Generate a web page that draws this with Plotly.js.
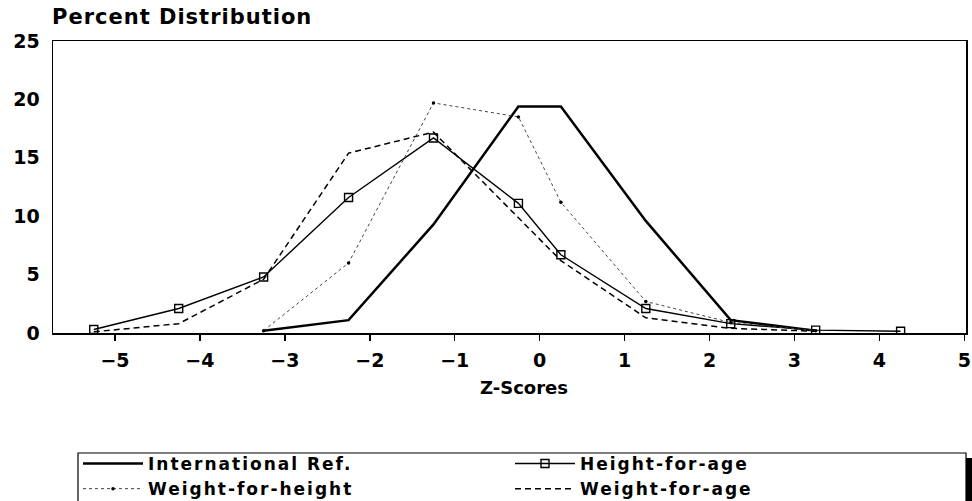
<!DOCTYPE html>
<html>
<head>
<meta charset="utf-8">
<script src="https://cdn.plot.ly/plotly-3.0.1.min.js"></script>
<style>
html,body{margin:0;padding:0;background:#fff;}
#chart{width:972px;height:501px;}
.legendtext{letter-spacing:2px;}
.gtitle{letter-spacing:1px;}
</style>
</head>
<body>
<div id="chart"></div>
<script>
// Data
const refX = [-3.25, -2.25, -1.25, -0.25, 0.25, 1.25, 2.25, 3.25];
const refY = [0.2, 1.1, 9.3, 19.4, 19.4, 9.6, 1.1, 0.2];

const hfaX = [-5.25, -4.25, -3.25, -2.25, -1.25, -0.25, 0.25, 1.25, 2.25, 3.25, 4.25];
const hfaY = [0.3, 2.1, 4.8, 11.6, 16.7, 11.1, 6.7, 2.1, 0.8, 0.25, 0.15];

const wfhX = [-3.25, -2.25, -1.25, -0.25, 0.25, 1.25, 2.25, 3.25];
const wfhY = [0.2, 6.0, 19.7, 18.5, 11.2, 2.7, 0.9, 0.2];

const wfaX = [-5.25, -4.25, -3.25, -2.25, -1.25, -0.25, 0.25, 1.25, 2.25, 3.25];
const wfaY = [0.1, 0.8, 4.6, 15.4, 17.2, 9.9, 6.2, 1.3, 0.4, 0.15];

const xTicks = [-5, -4, -3, -2, -1, 0, 1, 2, 3, 4, 5];
const yTicks = [0, 5, 10, 15, 20, 25];

const names = ['International Ref.', 'Height-for-age', 'Weight-for-height', 'Weight-for-age'];
const xTitle = 'Z-Scores';
const yTitle = 'Percent Distribution';

const traces = [
  {x: refX, y: refY, name: names[0], mode: 'lines', type: 'scatter',
   line: {color: '#000', width: 2.5}},
  {x: hfaX, y: hfaY, name: names[1], mode: 'lines+markers', type: 'scatter',
   line: {color: '#000', width: 1.4},
   marker: {symbol: 'square-open', size: 8, color: '#000', line: {width: 1.4, color: '#000'}}},
  {x: wfhX, y: wfhY, name: names[2], mode: 'lines+markers', type: 'scatter',
   line: {color: '#444', width: 1, dash: 'dot'},
   marker: {symbol: 'circle', size: 3.5, color: '#000'}},
  {x: wfaX, y: wfaY, name: names[3], mode: 'lines', type: 'scatter',
   line: {color: '#000', width: 1.5, dash: '6px,4px'}}
];

const L = 53, R = 6, T = 41, B = 168;
const W = 972, H = 501;
const pw = W - L - R, ph = H - T - B;
const px = v => (v - L) / pw;
const py = v => (H - B - v) / ph;

const layout = {
  width: W, height: H,
  margin: {l: L, r: R, t: T, b: B, pad: 0, autoexpand: false},
  paper_bgcolor: '#fff', plot_bgcolor: '#fff',
  font: {family: 'DejaVu Sans', color: '#000', size: 18},
  showlegend: true,
  title: {
    text: yTitle,
    font: {family: 'DejaVu Sans', size: 21, weight: 'bold', color: '#000'},
    x: 52 / W, xanchor: 'left', xref: 'container',
    y: 1 - 17 / H, yanchor: 'middle', yref: 'container'
  },
  xaxis: {
    range: [-5.73, 5.02],
    tickvals: xTicks,
    ticks: 'outside', ticklen: 6, tickwidth: 1.5, tickcolor: '#000',
    showline: true, linecolor: '#000', linewidth: 1.5, mirror: true,
    showgrid: false, zeroline: false,
    tickfont: {family: 'DejaVu Sans', size: 19, weight: 'bold'},
    ticklabelstandoff: 4,
    automargin: false
  },
  yaxis: {
    range: [0, 25],
    tickvals: yTicks,
    ticks: '',
    showline: true, linecolor: '#000', linewidth: 1.5, mirror: true,
    showgrid: false, zeroline: false,
    automargin: false,
    tickfont: {family: 'DejaVu Sans', size: 19, weight: 'bold'},
    ticklabelstandoff: 8
  },
  annotations: [
    {text: xTitle, xref: 'paper', yref: 'paper', x: px(524), y: py(387),
     xanchor: 'center', yanchor: 'middle', showarrow: false,
     font: {family: 'DejaVu Sans', size: 18, weight: 'bold', color: '#000'}}
  ],
  legend: {
    orientation: 'h',
    x: px(78), xanchor: 'left',
    y: py(446), yanchor: 'top',
    itemwidth: 60,
    entrywidth: 357, entrywidthmode: 'pixels',
    font: {family: 'DejaVu Sans', size: 17, weight: 'bold', color: '#000'},
    bgcolor: 'rgba(0,0,0,0)', borderwidth: 0,
    tracegroupgap: 0,
    traceorder: 'normal'
  },
  shapes: [
    {type: 'rect', xref: 'paper', yref: 'paper',
     x0: px(78), x1: px(966), y0: py(453), y1: py(540),
     line: {color: '#000', width: 1.2}, fillcolor: 'rgba(0,0,0,0)'},
    {type: 'rect', xref: 'paper', yref: 'paper',
     x0: px(966), x1: px(975), y0: py(458), y1: py(540),
     line: {width: 0}, fillcolor: '#000'}
  ]
};

Plotly.newPlot('chart', traces, layout, {displayModeBar: false, staticPlot: true});
</script>
</body>
</html>
